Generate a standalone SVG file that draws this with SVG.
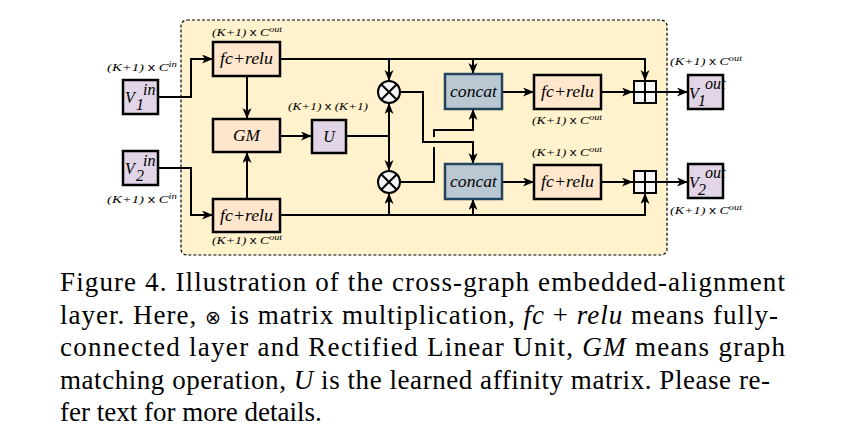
<svg xmlns="http://www.w3.org/2000/svg" width="860" height="441" viewBox="0 0 860 441">
<style>
.box{stroke:#000;stroke-width:2.5}
.fc{fill:#ffe6cc}
.pu{fill:#e1d5e7}
.cc{fill:#bac8d3;stroke:#23445d;stroke-width:2.5}
.op{fill:#f5f5f5;stroke:#000;stroke-width:2}
.ln{fill:none;stroke:#000;stroke-width:2}
.lb{font-family:"Liberation Serif",serif;font-style:italic;font-size:16px;fill:#000}
.sz{font-family:"Liberation Serif",serif;font-style:italic;font-size:11px;fill:#000}
.x{font-family:"Liberation Sans",sans-serif;font-style:normal}
.cap{font-family:"Liberation Serif",serif;font-size:27px;fill:#000}
.it{font-style:italic}
.sym{font-family:"DejaVu Sans",sans-serif;font-size:19px;font-weight:200}
</style>
<defs>
<marker id="ah" markerUnits="userSpaceOnUse" markerWidth="12" markerHeight="10" refX="11" refY="4.5" orient="auto">
<path d="M0,0 L11,4.5 L0,9 L3,4.5 z" fill="#000"/>
</marker>
</defs>
<rect x="181" y="20" width="486" height="235" rx="6" fill="#fff2cc" stroke="#000" stroke-width="1.2" stroke-dasharray="3,2"/>

<g id="connectors">
<path class="ln" d="M158,97 H191 V59 H213" marker-end="url(#ah)"/>
<path class="ln" d="M158,168 H191 V215 H213" marker-end="url(#ah)"/>
<path class="ln" d="M247,76 V119" marker-end="url(#ah)"/>
<path class="ln" d="M247,199 V152" marker-end="url(#ah)"/>
<path class="ln" d="M280,136 H312" marker-end="url(#ah)"/>
<path class="ln" d="M346,136 H389"/>
<path class="ln" d="M389,136 V103" marker-end="url(#ah)"/>
<path class="ln" d="M389,136 V171" marker-end="url(#ah)"/>
<path class="ln" d="M280,59 H645 V81" marker-end="url(#ah)"/>
<path class="ln" d="M389,59 V81" marker-end="url(#ah)"/>
<path class="ln" d="M473,59 V74" marker-end="url(#ah)"/>
<path class="ln" d="M280,215 H645 V193" marker-end="url(#ah)"/>
<path class="ln" d="M389,215 V193" marker-end="url(#ah)"/>
<path class="ln" d="M473,215 V199" marker-end="url(#ah)"/>
<path class="ln" d="M400,92 H423 V142 H473 V164" marker-end="url(#ah)"/>
<path class="ln" d="M400,182 H434 V147"/>
<path class="ln" d="M434,137 V130 H473 V109" marker-end="url(#ah)"/>
<path class="ln" d="M502,92 H534" marker-end="url(#ah)"/>
<path class="ln" d="M502,182 H534" marker-end="url(#ah)"/>
<path class="ln" d="M601,92 H633" marker-end="url(#ah)"/>
<path class="ln" d="M601,182 H633" marker-end="url(#ah)"/>
<path class="ln" d="M656,92 H688" marker-end="url(#ah)"/>
<path class="ln" d="M656,182 H688" marker-end="url(#ah)"/>
</g>

<g id="v1in">
<rect class="box pu" x="123" y="80" width="35" height="34"/>
<text class="lb" x="125" y="103">V</text>
<text class="lb" x="136" y="110" font-size="12">1</text>
<text class="lb" x="143" y="95" font-size="12">in</text>
<text class="sz" x="107" y="71" textLength="70" lengthAdjust="spacingAndGlyphs">(K+1) <tspan class="x">x</tspan> C<tspan font-size="8" dy="-4">in</tspan></text>
</g>
<g id="v2in">
<rect class="box pu" x="123" y="151" width="35" height="34"/>
<text class="lb" x="125" y="174">V</text>
<text class="lb" x="136" y="181" font-size="12">2</text>
<text class="lb" x="143" y="166" font-size="12">in</text>
<text class="sz" x="107" y="203" textLength="70" lengthAdjust="spacingAndGlyphs">(K+1) <tspan class="x">x</tspan> C<tspan font-size="8" dy="-4">in</tspan></text>
</g>
<g id="fc1">
<rect class="box fc" x="213" y="42" width="67" height="34"/>
<text class="lb" x="220" y="64" textLength="53" lengthAdjust="spacingAndGlyphs">fc+relu</text>
<text class="sz" x="212" y="36" textLength="70" lengthAdjust="spacingAndGlyphs">(K+1) <tspan class="x">x</tspan> C<tspan font-size="8" dy="-4">out</tspan></text>
</g>
<g id="fc2">
<rect class="box fc" x="213" y="199" width="67" height="33"/>
<text class="lb" x="220" y="221" textLength="53" lengthAdjust="spacingAndGlyphs">fc+relu</text>
<text class="sz" x="212" y="244" textLength="70" lengthAdjust="spacingAndGlyphs">(K+1) <tspan class="x">x</tspan> C<tspan font-size="8" dy="-4">out</tspan></text>
</g>
<g id="gm">
<rect class="box fc" x="213" y="119" width="67" height="33"/>
<text class="lb" x="246.5" y="141" text-anchor="middle" textLength="27" lengthAdjust="spacingAndGlyphs">GM</text>
</g>
<g id="u">
<rect class="box pu" x="312" y="120" width="34" height="33"/>
<text class="lb" x="329" y="142" text-anchor="middle">U</text>
<text class="sz" x="288" y="110" textLength="80" lengthAdjust="spacingAndGlyphs">(K+1) <tspan class="x">x</tspan> (K+1)</text>
</g>
<g id="mul1">
<circle class="op" cx="389" cy="92" r="11"/>
<path class="ln" d="M381.2,84.2 L396.8,99.8 M396.8,84.2 L381.2,99.8"/>
</g>
<g id="mul2">
<circle class="op" cx="389" cy="182" r="11"/>
<path class="ln" d="M381.2,174.2 L396.8,189.8 M396.8,174.2 L381.2,189.8"/>
</g>
<g id="concat1">
<rect class="cc" x="445" y="74" width="57" height="35"/>
<text class="lb" x="450" y="97" textLength="47" lengthAdjust="spacingAndGlyphs">concat</text>
</g>
<g id="concat2">
<rect class="cc" x="445" y="164" width="57" height="35"/>
<text class="lb" x="450" y="187" textLength="47" lengthAdjust="spacingAndGlyphs">concat</text>
</g>
<g id="fc3">
<rect class="box fc" x="534" y="75" width="67" height="34"/>
<text class="lb" x="541" y="97" textLength="53" lengthAdjust="spacingAndGlyphs">fc+relu</text>
<text class="sz" x="532" y="124" textLength="70" lengthAdjust="spacingAndGlyphs">(K+1) <tspan class="x">x</tspan> C<tspan font-size="8" dy="-4">out</tspan></text>
</g>
<g id="fc4">
<rect class="box fc" x="534" y="165" width="67" height="34"/>
<text class="lb" x="541" y="187" textLength="53" lengthAdjust="spacingAndGlyphs">fc+relu</text>
<text class="sz" x="532" y="156" textLength="70" lengthAdjust="spacingAndGlyphs">(K+1) <tspan class="x">x</tspan> C<tspan font-size="8" dy="-4">out</tspan></text>
</g>
<g id="add1">
<rect class="op" x="634" y="81" width="22" height="22" stroke-width="2.5"/>
<path class="ln" d="M645,81 V103 M634,92 H656"/>
</g>
<g id="add2">
<rect class="op" x="634" y="171" width="22" height="22" stroke-width="2.5"/>
<path class="ln" d="M645,171 V193 M634,182 H656"/>
</g>
<g id="v1out">
<rect class="box pu" x="688" y="75" width="35" height="34"/>
<text class="lb" x="689" y="99" font-size="13">V</text>
<text class="lb" x="698" y="106" font-size="9">1</text>
<text class="lb" x="705" y="89" font-size="11">out</text>
<text class="sz" x="670" y="65" textLength="72" lengthAdjust="spacingAndGlyphs">(K+1) <tspan class="x">x</tspan> C<tspan font-size="8" dy="-4">out</tspan></text>
</g>
<g id="v2out">
<rect class="box pu" x="688" y="164" width="35" height="34"/>
<text class="lb" x="689" y="188" font-size="13">V</text>
<text class="lb" x="698" y="195" font-size="9">2</text>
<text class="lb" x="705" y="178" font-size="11">out</text>
<text class="sz" x="670" y="214" textLength="72" lengthAdjust="spacingAndGlyphs">(K+1) <tspan class="x">x</tspan> C<tspan font-size="8" dy="-4">out</tspan></text>
</g>

<g id="caption">
<text class="cap" x="60" y="291" textLength="725" lengthAdjust="spacing">Figure 4. Illustration of the cross-graph embedded-alignment</text>
<text class="cap" x="60" y="323.5" textLength="718" lengthAdjust="spacing">layer. Here, <tspan class="sym">⊗</tspan> is matrix multiplication, <tspan class="it">fc</tspan> + <tspan class="it">relu</tspan> means fully-</text>
<text class="cap" x="60" y="356" textLength="725" lengthAdjust="spacing">connected layer and Rectified Linear Unit, <tspan class="it">GM</tspan> means graph</text>
<text class="cap" x="60" y="388.5" textLength="710" lengthAdjust="spacing">matching operation, <tspan class="it">U</tspan> is the learned affinity matrix. Please re-</text>
<text class="cap" x="60" y="421">fer text for more details.</text>
</g>
</svg>
